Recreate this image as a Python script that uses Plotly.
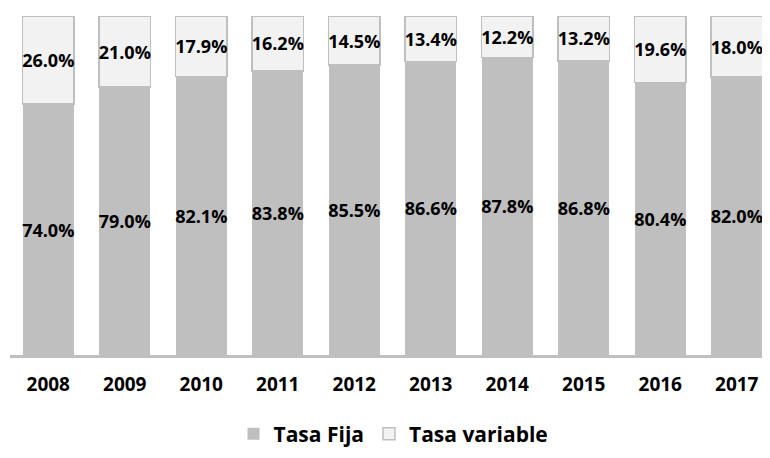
import plotly.graph_objects as go

years = ["2008", "2009", "2010", "2011", "2012", "2013", "2014", "2015", "2016", "2017"]
tasa_fija = [74.0, 79.0, 82.1, 83.8, 85.5, 86.6, 87.8, 86.8, 80.4, 82.0]
tasa_variable = [26.0, 21.0, 17.9, 16.2, 14.5, 13.4, 12.2, 13.2, 19.6, 18.0]

FONT = "Open Sans"
LABEL = dict(family=FONT, size=18, color="black", weight="bold")

fig = go.Figure()
fig.add_trace(go.Bar(
    x=years, y=tasa_fija, name="Tasa Fija",
    marker=dict(color="#bfbfbf", line=dict(width=0)),
    text=[f"{v:.1f}%" for v in tasa_fija], textposition="inside",
    insidetextanchor="middle", textangle=0, constraintext="none",
    textfont=LABEL,
))
fig.add_trace(go.Bar(
    x=years, y=tasa_variable, name="Tasa variable",
    marker=dict(color="#f2f2f2", line=dict(width=1.5, color="#bfbfbf")),
    text=[f"{v:.1f}%" for v in tasa_variable], textposition="inside",
    insidetextanchor="middle", textangle=0, constraintext="none",
    textfont=LABEL,
))

fig.update_layout(
    barmode="stack", bargap=0.333,
    width=754, height=442,
    margin=dict(l=2, r=0, t=8, b=95, autoexpand=False),
    plot_bgcolor="white", paper_bgcolor="white",
    font=dict(family=FONT, color="black"),
    showlegend=True,
    legend=dict(orientation="h", x=0.51, xanchor="center",
                yref="container", y=0.036, yanchor="middle",
                traceorder="normal",
                font=dict(family=FONT, size=21, color="black", weight="bold"),
                itemwidth=30, tracegroupgap=0),
)
fig.update_xaxes(type="category", range=[-0.5, 9.33], showgrid=False,
                 showline=True, linecolor="#bfbfbf", linewidth=3,
                 ticks="", tickfont=dict(family=FONT, size=19, color="black", weight="bold"),
                 ticklabelstandoff=10)
fig.update_yaxes(range=[0, 100], visible=False, showgrid=False)

fig.write_html("out.html")
